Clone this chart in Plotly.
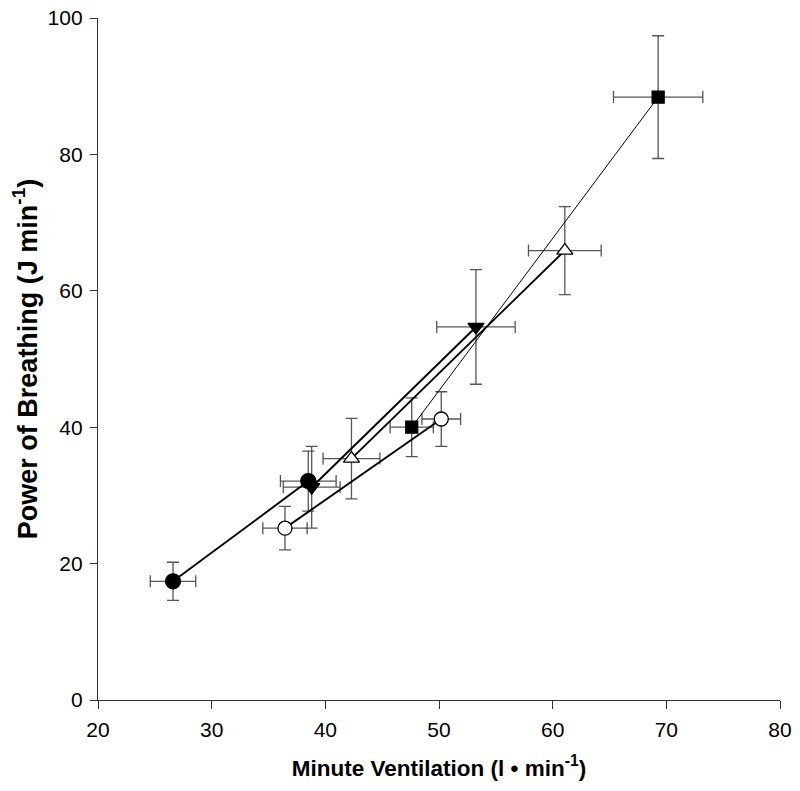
import plotly.graph_objects as go

# Filled circles
fc_x = [26.6, 38.5]
fc_y = [17.4, 32.1]
fc_xerr = [2.0, 2.45]
fc_yerr = [2.8, 4.4]
# Open circles
oc_x = [36.45, 50.2]
oc_y = [25.2, 41.2]
oc_xerr = [1.95, 1.7]
oc_yerr = [3.2, 4.0]
# Filled triangles (down)
td_x = [38.8, 53.25]
td_y = [31.2, 54.7]
td_xerr = [2.5, 3.45]
td_yerr = [6.0, 8.4]
# Open triangles (up)
tu_x = [42.3, 61.07]
tu_y = [35.4, 65.9]
tu_xerr = [2.5, 3.2]
tu_yerr = [5.9, 6.45]
# Filled squares
sq_x = [47.6, 69.28]
sq_y = [40.0, 88.4]
sq_xerr = [1.9, 3.93]
sq_yerr = [4.3, 9.0]

x_ticks = [20, 30, 40, 50, 60, 70, 80]
y_ticks = [0, 20, 40, 60, 80, 100]

series = [
    (fc_x, fc_y, fc_xerr, fc_yerr, "circle", "black", 15, 1.9),
    (oc_x, oc_y, oc_xerr, oc_yerr, "circle", "white", 14, 1.9),
    (td_x, td_y, td_xerr, td_yerr, "triangle-down", "black", 14, 1.9),
    (tu_x, tu_y, tu_xerr, tu_yerr, "triangle-up", "white", 14, 1.9),
    (sq_x, sq_y, sq_xerr, sq_yerr, "square", "black", 12, 1.0),
]

fig = go.Figure()
err_color = "#555555"
for xs, ys, xe, ye, sym, fill, size, lw in series:
    fig.add_trace(go.Scatter(
        x=xs, y=ys, mode="markers",
        marker=dict(size=1, color="rgba(0,0,0,0)"),
        error_x=dict(type="data", array=xe, visible=True, color=err_color, thickness=1.3, width=6),
        error_y=dict(type="data", array=ye, visible=True, color=err_color, thickness=1.3, width=6),
        showlegend=False, hoverinfo="skip",
    ))
for xs, ys, xe, ye, sym, fill, size, lw in series:
    fig.add_trace(go.Scatter(
        x=xs, y=ys, mode="lines",
        line=dict(color="black", width=lw),
        showlegend=False,
    ))
for xs, ys, xe, ye, sym, fill, size, lw in series:
    fig.add_trace(go.Scatter(
        x=xs, y=ys, mode="markers",
        marker=dict(symbol=sym, size=size, color=fill, line=dict(color="black", width=1.3)),
        showlegend=False,
    ))

fig.update_layout(
    width=800, height=791,
    paper_bgcolor="white", plot_bgcolor="white",
    margin=dict(l=98, r=20, t=18, b=91, autoexpand=False),
    font=dict(family="Liberation Sans, Arial, sans-serif", color="black"),
    xaxis=dict(
        range=[20, 80], tickvals=x_ticks, ticktext=[str(v) for v in x_ticks],
        showline=True, linecolor="#333333", linewidth=1.3,
        ticks="outside", ticklen=8, tickcolor="#333333", tickwidth=1.3,
        ticklabelstandoff=3, ticklabeloverflow="allow", automargin=False,
        showgrid=False, zeroline=False,
        tickfont=dict(size=21),
        title=dict(text="<b>Minute Ventilation (l • min<sup>-1</sup>)</b>", font=dict(size=22.5), standoff=19),
    ),
    yaxis=dict(
        range=[0, 100], tickvals=y_ticks, ticktext=[str(v) for v in y_ticks],
        showline=True, linecolor="#333333", linewidth=1.3,
        ticks="outside", ticklen=7, tickcolor="#333333", tickwidth=1.3,
        ticklabelstandoff=3, ticklabeloverflow="allow", automargin=False,
        showgrid=False, zeroline=False,
        tickfont=dict(size=21),
        title=dict(text="<b>Power of Breathing (J min<sup>-1</sup>)</b>", font=dict(size=27), standoff=2),
    ),
)

fig.write_html(
    "out.html",
    config={"displayModeBar": False},
    post_script="document.body.style.margin='0';document.body.style.overflow='hidden';",
)
